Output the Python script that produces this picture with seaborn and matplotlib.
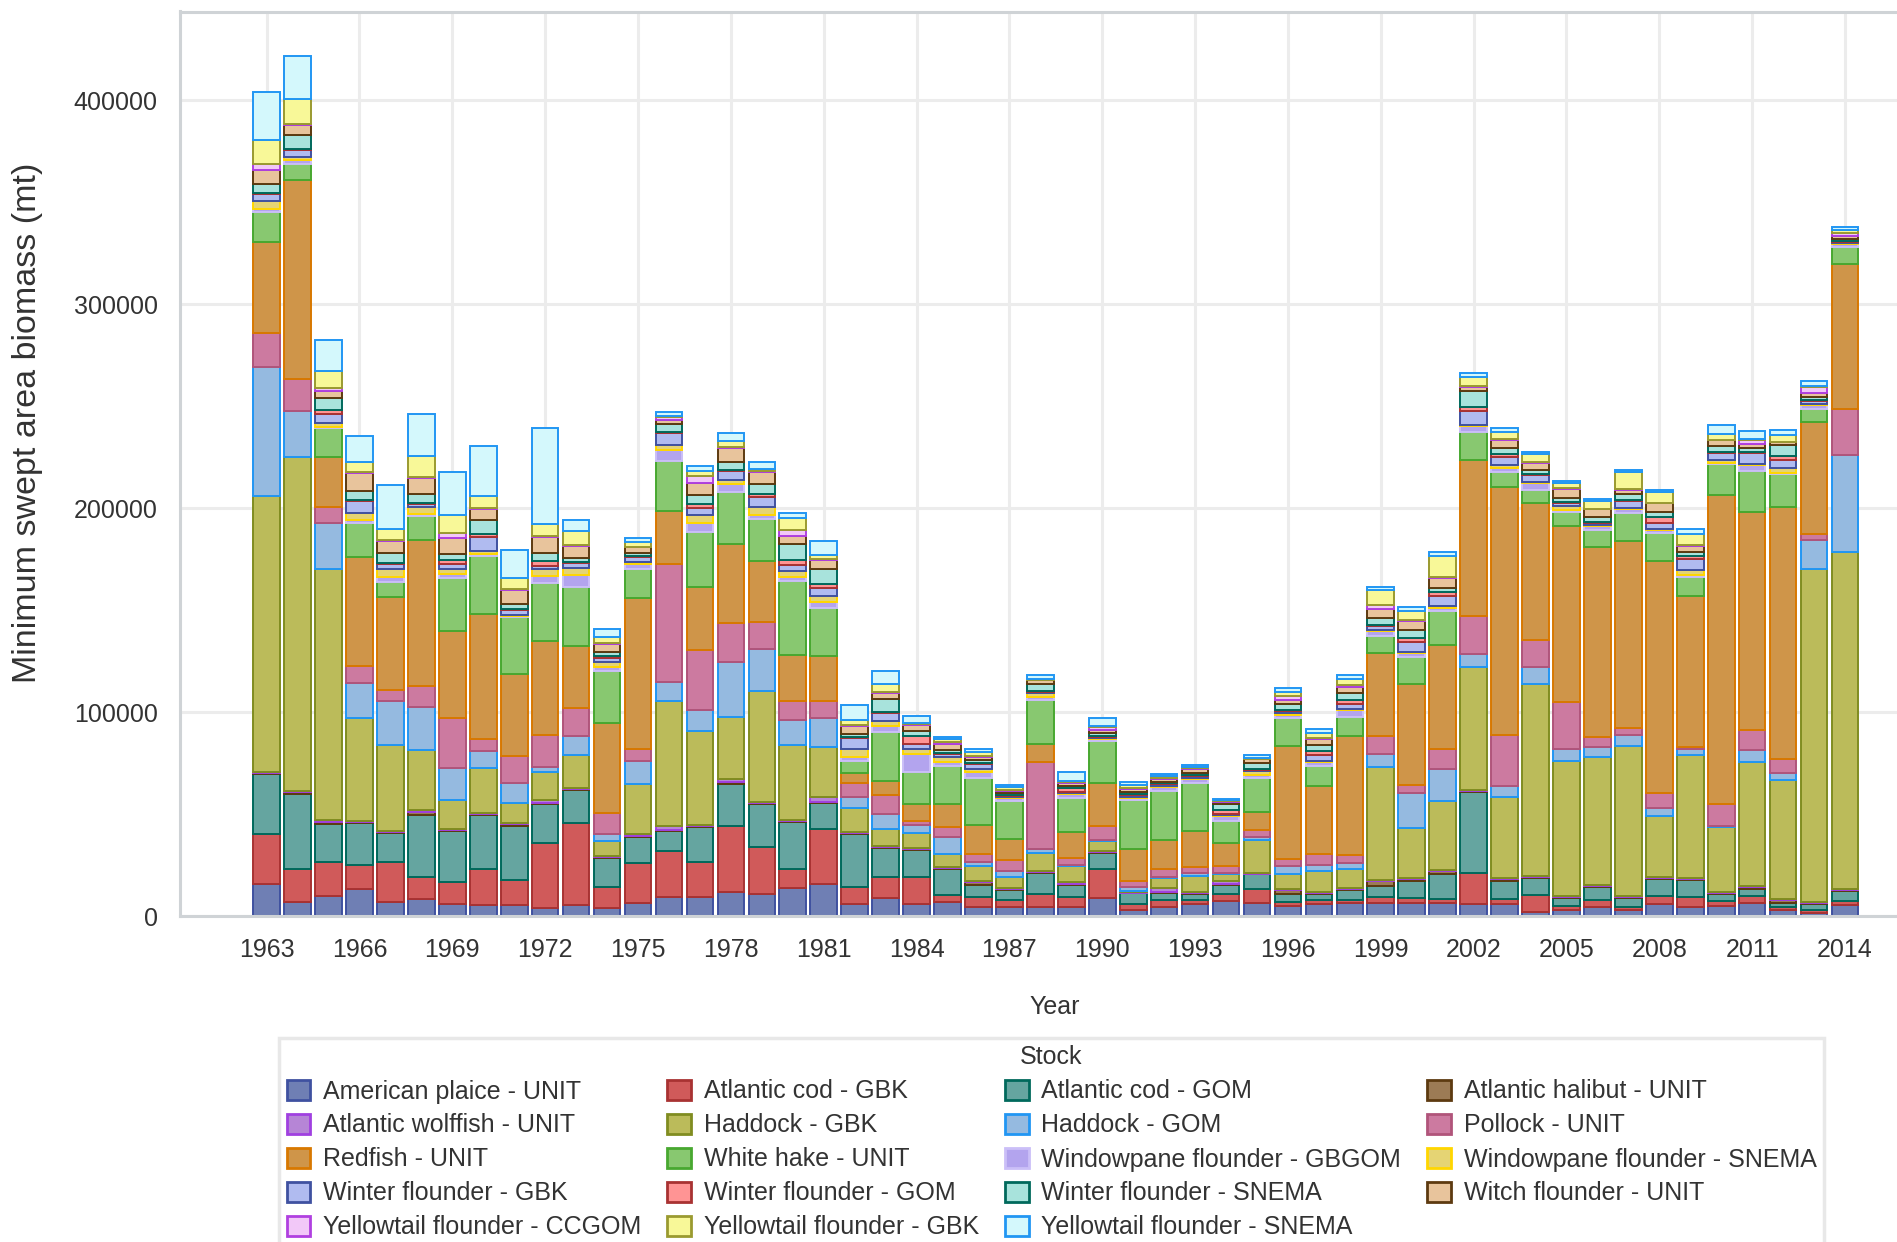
import matplotlib
matplotlib.use("Agg")
import pandas as pd
import matplotlib.pyplot as plt
import seaborn as sns
from matplotlib import font_manager
from matplotlib.colors import to_hex
from matplotlib.patches import Patch
from matplotlib.ticker import FuncFormatter

# --- data (thousand mt, years 1963-2014) ---
YEARS = list(range(1963, 2015))

STOCKS = [
    "American plaice - UNIT", "Atlantic cod - GBK", "Atlantic cod - GOM", "Atlantic halibut - UNIT",
    "Atlantic wolffish - UNIT", "Haddock - GBK", "Haddock - GOM", "Pollock - UNIT",
    "Redfish - UNIT", "White hake - UNIT", "Windowpane flounder - GBGOM", "Windowpane flounder - SNEMA",
    "Winter flounder - GBK", "Winter flounder - GOM", "Winter flounder - SNEMA", "Witch flounder - UNIT",
    "Yellowtail flounder - CCGOM", "Yellowtail flounder - GBK", "Yellowtail flounder - SNEMA",
]

american_plaice = [15.8, 7, 9.8, 13.4, 7.1, 8.5, 5.7, 5.2, 5.2, 3.9, 5.2, 3.9, 6.5, 9.1, 9.1, 11.8, 10.7, 13.8,
                   15.8, 5.7, 8.7, 5.7, 6.7, 4.4, 4.4, 4.4, 4.4, 8.6, 2.7, 4.4, 6, 7.3, 6.6, 5, 6, 6.2, 6.6,
                   6.6, 6.3, 5.9, 5.9, 2.1, 2.8, 4.2, 3, 5.9, 4.3, 4.7, 6.5, 3, 1.5, 5.4]
cod_gbk = [24.3, 16, 16.5, 11.6, 19.2, 10.4, 11, 17.7, 12.5, 31.9, 40.3, 10.4, 19.5, 22.6, 17.4, 32.5, 23, 9.2,
           26.9, 8.5, 10.2, 13.2, 3.4, 5.1, 3.4, 6.4, 5.1, 14.4, 3.0, 3.4, 2, 3.7, 6.6, 2, 2, 1.8, 2.8, 2.1,
           2.1, 15.1, 2.5, 8, 2, 3.8, 1.5, 3.7, 4.9, 2.9, 3.4, 1.5, 1.2, 2.2]
cod_gom = [29.4, 37, 18.8, 20.6, 14.6, 30.8, 24.8, 26.4, 26.5, 19.3, 16.3, 14.3, 12.5, 9.9, 17.1, 20.3, 21.2,
           23.3, 12.8, 26, 14.2, 13.6, 12.8, 5.9, 5, 10.1, 5.8, 8.1, 5.4, 3.4, 2.6, 4.3, 7.2, 3.7, 3, 4.8, 5.4,
           8.7, 12.1, 39.8, 9, 8.3, 4.2, 6.3, 4.5, 8.4, 8.6, 3.4, 3.4, 1.7, 3, 4.5]
halibut = [0.5, 1, 1, 0.5, 0.5, 1.2, 0.5, 0.5, 1, 0.5, 0.5, 0.5, 0.5, 0.8, 0.5, 1.2, 0.5, 0.5, 0.5, 0.5, 0.5,
           0.5, 0.5, 1.5, 0.5, 0.5, 0.5, 0.5, 0.3, 0.5, 0.5, 0.3, 0.3, 2.2, 0.5, 0.5, 2.2, 0.5, 1.7, 0.5, 0.5,
           0.5, 0.5, 0.5, 0.5, 0.5, 0.5, 0.3, 1.1, 1.5, 0.5, 0.5]
wolffish = [0.5, 0.5, 0.9, 0.5, 0.5, 1.0, 0.5, 0.5, 0.5, 1.5, 0.5, 0.5, 1.3, 1.8, 0.5, 1.3, 0.5, 0.5, 2.5, 0.5,
            0.5, 0.5, 0.5, 0.5, 0.3, 0.5, 0.9, 0.5, 0.3, 2.0, 0.5, 1.8, 0.3, 0.5, 0.5, 0.5, 0.5, 0.5, 0.5, 0.5,
            0.5, 0.5, 0.5, 0.5, 0.5, 0.5, 0.5, 0.3, 0.3, 0.5, 0.5, 0.5]
haddock_gbk = [135.5, 163.4, 123.3, 50.7, 41.9, 29.5, 14.6, 22.4, 9.9, 13.5, 16.1, 7.3, 24.6, 61, 46.3, 30.4,
               54.5, 36.6, 24.4, 11.6, 8.6, 7.2, 6.6, 7.3, 5.4, 9.2, 7.6, 4.8, 0.5, 5, 7.8, 3.3, 16.1, 7.2, 10,
               9.3, 55.4, 24.9, 33.9, 60.4, 39.9, 94.4, 66.1, 62.9, 73.4, 29.8, 60.3, 32.1, 60.8, 58.7, 163.2,
               165.6]
haddock_gom = [63.3, 22.5, 22.5, 17.1, 21.5, 21.2, 15.7, 8.3, 9.8, 2.6, 9.4, 3.1, 10.9, 9.6, 9.9, 27.1, 20.3,
               12.2, 14.2, 5.7, 7.3, 4.1, 8.2, 1.7, 2.9, 1.7, 0.5, 0.5, 2.1, 0.3, 1.5, 0.5, 1.5, 3.7, 2.8, 2.9,
               6.6, 16.9, 15.3, 6.3, 5.2, 8.4, 5.6, 4.8, 5.2, 4.2, 2.7, 0.5, 5.7, 3.1, 14.7, 47.3]
pollock = [16.5, 16, 7.7, 8.2, 5.5, 10.4, 24.2, 6, 13, 15.6, 13.5, 10.4, 6, 57.9, 29.5, 19.3, 13.6, 9.2, 8.2,
           6.5, 9.5, 2, 5.1, 4, 5.6, 42.5, 3.7, 6.8, 2.7, 3.9, 2.9, 3.3, 3.5, 3.5, 5.5, 3.7, 8.7, 3.8, 9.8,
           18.8, 25.1, 13.2, 23.1, 5, 3.6, 7.4, 1, 10.6, 10.1, 6.8, 2.9, 22.5]
redfish = [44.6, 97.7, 24.8, 53.2, 45.4, 71.5, 42.7, 61, 40.5, 46.2, 30.6, 44.1, 74, 25.9, 31.2, 38.6, 29.7,
           22.7, 22.3, 5.3, 6.7, 8.2, 11.2, 14.1, 10.1, 8.8, 12.5, 21, 15.8, 14.2, 18, 11.4, 8.7, 55.7, 33.3,
           58.5, 41, 49.9, 51, 76.5, 121.6, 67, 86.5, 92.9, 91.8, 113.5, 74.3, 151.5, 107, 123.9, 54.5, 71]
white_hake = [15, 7.4, 13.8, 17, 7.4, 11.6, 26.1, 28.5, 27.6, 28.1, 29.1, 25.4, 14.3, 24.7, 26.7, 25.4, 20.7,
              36.2, 23.4, 5.5, 23.8, 15.8, 18.6, 23.1, 18.6, 21.6, 17, 20.5, 24.2, 24.2, 23.5, 10.9, 17, 13.8,
              10, 9.4, 8.3, 12.9, 16.7, 13.6, 7.3, 6.7, 7, 8.3, 13.6, 13.8, 9, 15.1, 19.8, 15.8, 6.4, 8.5]
windowpane_gbgom = [1.5, 2, 0.8, 1.5, 2.8, 0.8, 2, 1, 0.5, 3.6, 5.7, 2.1, 2.6, 5.2, 4.4, 4.1, 2.1, 2.1, 3.1,
                    2.2, 3.1, 8.5, 2.1, 3, 1.5, 1.7, 1.7, 1, 1.0, 2, 2, 2, 1.2, 1.5, 2, 3.3, 2.1, 2, 1.5, 2.8,
                    2.3, 3.2, 1, 2, 2.1, 1.5, 1, 0.5, 3.1, 0.5, 2.2, 1.6]
windowpane_snema = [3.5, 1.6, 1.9, 3.2, 3.5, 3.6, 2.1, 1.6, 0.5, 3.4, 3.4, 2.6, 1, 2.6, 3.9, 2, 3.6, 3, 3, 3.7,
                    2.4, 2.5, 2.1, 1.7, 0.5, 2, 0.5, 0.5, 0.5, 0.5, 0.5, 0.5, 2, 0.5, 0.5, 0.5, 0.5, 0.5, 1.2,
                    0.5, 1.5, 0.5, 1.5, 0.5, 0.5, 0.5, 2.6, 1.8, 0.5, 2.9, 0.5, 0.5]
winter_gbk = [3.8, 3.6, 4.1, 5.8, 2.8, 1.5, 2.5, 6.9, 2.5, 1.5, 2.4, 2, 2.4, 5.7, 3.4, 4.1, 4.9, 2.7, 3.5, 5.4,
              4.1, 2.6, 1.5, 2.1, 0.5, 0.5, 0.5, 0.5, 0.8, 0.8, 0.8, 0.8, 0.8, 1, 2.6, 2.6, 2.2, 5, 4.7, 7,
              3.6, 3.2, 1.5, 1, 3.2, 3.2, 5.4, 3.4, 5.2, 3.8, 1.5, 0.5]
winter_gom = [0.5, 0.5, 2.2, 0.5, 0.5, 0.5, 2, 1.5, 0.5, 2.6, 0.5, 1, 0.5, 0.5, 2.1, 0.5, 1.6, 2.8, 2, 0.5,
              0.5, 4.1, 0.5, 0.5, 0.5, 0.5, 2, 0.5, 0.5, 0.5, 0.5, 2, 0.5, 0.5, 2, 2, 0.5, 2, 2.1, 2, 1.4,
              0.5, 0.5, 0.5, 0.5, 2.5, 1.3, 0.5, 0.5, 1.8, 0.5, 0.5]
winter_snema = [4.4, 6.6, 6.1, 4.7, 5.0, 4.5, 3, 6.7, 2.7, 3.6, 2, 2, 1.5, 4.1, 4.4, 4.1, 5.1, 7.7, 7.7, 1.5,
                6.2, 2, 1.5, 1.6, 1, 3.4, 1, 1.5, 1.2, 0.8, 1, 3, 2.5, 3, 3.3, 3.5, 3.3, 3.8, 2, 7.5, 3.4, 2,
                2, 2.5, 3.1, 2.7, 2.3, 2.9, 2.3, 5.6, 1.5, 0.8]
witch = [6.7, 4.9, 3.3, 8.6, 5.5, 7.8, 7.7, 5.2, 6.8, 7.8, 5.9, 3.9, 2.6, 2, 6, 6.7, 5.5, 3.7, 4.1, 4.1, 3,
         3.1, 3, 1.4, 1.2, 1.7, 1.5, 1.5, 1.5, 1.2, 2, 1, 2, 2, 3, 2.6, 4.4, 4.4, 4.6, 2, 3.6, 3.8, 4.8, 3.8,
         2, 4.2, 2.7, 2.7, 1.6, 1.1, 2, 1.5]
yellowtail_ccgom = [2.7, 0.5, 1.6, 0.5, 0.5, 0.5, 2.7, 0.5, 0.3, 0.5, 0.5, 0.5, 0.3, 1.2, 3.1, 0.5, 0.5, 2.9,
                    0.5, 0.3, 0.3, 0.3, 1, 0.5, 0.5, 0.3, 0.3, 1.5, 0.3, 0.5, 0.3, 0.5, 0.3, 2, 0.5, 1, 2.2,
                    0.5, 0.5, 0.5, 0.5, 0.5, 0.3, 0.3, 0.5, 0.3, 0.5, 0.3, 2.3, 0.3, 2.8, 1.5]
yellowtail_gbk = [12.1, 12.4, 8.3, 4.9, 5.5, 10.4, 8.8, 6.2, 5.2, 6, 7.1, 2.6, 2.6, 0.5, 2.6, 2.8, 1, 6, 2,
                  2.6, 4.1, 0.5, 1.5, 2, 1.2, 0.5, 0.5, 0.5, 1.5, 1, 0.5, 0.5, 0.5, 2, 2, 3, 7.3, 4.4, 10.4,
                  4.7, 3.5, 3.6, 2.6, 3.6, 8, 5.3, 5.6, 2.7, 0.5, 3.4, 0.5, 1.3]
yellowtail_snema = [23.4, 21.2, 15.1, 13, 21.5, 20.6, 20.9, 24.2, 14.1, 47.3, 5.1, 3.9, 1.5, 2, 2.6, 4.1, 3.6,
                    2.7, 7.1, 7.5, 6.5, 3.6, 1, 1.7, 1.2, 1.7, 4.5, 3.8, 1.2, 1, 1, 0.3, 1.5, 2, 2, 2, 1.5,
                    2.2, 2.1, 2, 2, 1, 1, 1, 1, 1, 2.3, 4.7, 3.6, 2.3, 2.3, 1.6]

SERIES = [american_plaice, cod_gbk, cod_gom, halibut, wolffish, haddock_gbk, haddock_gom, pollock,
          redfish, white_hake, windowpane_gbgom, windowpane_snema, winter_gbk, winter_gom, winter_snema,
          witch, yellowtail_ccgom, yellowtail_gbk, yellowtail_snema]

# --- colours (fill / outline) ---
FILL = ["#6f7fb4", "#d05a5a", "#65a5a0", "#9c7b55", "#b685d6", "#bbbb5a", "#95bae0", "#cc7aa0",
        "#cf9549", "#88c870", "#b3a4ee", "#e5d474", "#b0bbf0", "#ff9494", "#a8e3dc", "#e8c49c",
        "#f2c8f8", "#f8f898", "#d4f8fc"]
EDGE = ["#3f51a0", "#a83232", "#00695c", "#5d3a10", "#a040e0", "#808c20", "#2196f3", "#b0547a",
        "#d87800", "#48a830", "#cbbff8", "#ffd600", "#3f51a0", "#a83232", "#00695c", "#5d3a10",
        "#b040e0", "#9a9a30", "#2196f3"]

rows = []
for stock, vals in zip(STOCKS, SERIES):
    assert len(vals) == len(YEARS), stock
    for yr, v in zip(YEARS, vals):
        rows.append((yr, stock, v * 1000))
df = pd.DataFrame(rows, columns=["Year", "Stock", "Biomass"])

# --- fonts ---
sns.set_style("white")
installed = {f.name for f in font_manager.fontManager.ttflist}
if "Liberation Sans Narrow" in installed:
    MAIN_FONT, PT = "Liberation Sans Narrow", 22
else:
    MAIN_FONT, PT = "Liberation Sans", 18
plt.rcParams["font.family"] = [MAIN_FONT, "DejaVu Sans"]
TXT = "#333333"

# --- plot ---
W, H = 1897, 1242
fig = plt.figure(figsize=(W / 100, H / 100), dpi=100)
ax = fig.add_axes([180 / W, 1 - 916 / H, 1 - 180 / W, (916 - 11.5) / H])

sns.histplot(data=df, x="Year", weights="Biomass", hue="Stock", hue_order=STOCKS[::-1],
             multiple="stack", discrete=True, shrink=0.86, alpha=1,
             palette=dict(zip(STOCKS, FILL)), legend=False, ax=ax)

fill2edge = {to_hex(f): e for f, e in zip(FILL, EDGE)}
for p in ax.patches:
    key = to_hex(p.get_facecolor())
    if key in fill2edge:
        p.set_edgecolor(fill2edge[key])
        p.set_linewidth(1.4)

ax.set_xlim(1960.2, 2015.68)
ax.set_ylim(0, 443500)
ax.set_xticks(YEARS[::3])
ax.set_yticks([0, 100000, 200000, 300000, 400000])
ax.yaxis.set_major_formatter(FuncFormatter(lambda v, _: f"{int(v)}"))
ax.set_axisbelow(True)
ax.grid(True, color="#ececec", linewidth=2.2)
for s in ["left", "bottom", "top"]:
    ax.spines[s].set_color("#cfd3d6")
    ax.spines[s].set_linewidth(2.2)
ax.spines["right"].set_visible(False)
ax.tick_params(axis="x", length=11, width=2.5, color="#b4b7ba", pad=4.5, labelsize=PT, labelcolor=TXT)
ax.tick_params(axis="y", length=8, width=2, color="#d0d3d6", pad=8, labelsize=PT, labelcolor=TXT)
ax.set_xlabel("")
ax.set_ylabel("")

fig.text(28 / W, 1 - 423 / H, "Minimum swept area biomass (mt)", rotation=90, ha="center", va="center",
         family=["Liberation Sans", "DejaVu Sans"], fontsize=24.5, color=TXT)
fig.text(1055 / W, 1 - 1007 / H, "Year", ha="center", va="center", fontsize=PT, color=TXT)

# --- legend (row-major like the original) ---
handles = [Patch(facecolor=f, edgecolor=e, linewidth=2) for f, e in zip(FILL, EDGE)]
order = [0, 4, 8, 12, 16, 1, 5, 9, 13, 17, 2, 6, 10, 14, 18, 3, 7, 11, 15]
leg = fig.legend([handles[i] for i in order], [STOCKS[i] for i in order], ncol=4, title="Stock",
                 loc="upper left", bbox_to_anchor=(279 / W, 1 - 1038 / H), frameon=True, fancybox=False,
                 edgecolor="#e3e3e3", fontsize=PT, title_fontsize=PT, handlelength=0.95,
                 handleheight=0.88, handletextpad=0.5, columnspacing=1.05, labelspacing=0.4,
                 borderpad=0.3, borderaxespad=0)
leg.get_frame().set_linewidth(2.5)
leg.get_title().set_color(TXT)
for t in leg.get_texts():
    t.set_color(TXT)

fig.savefig("out.png", dpi=100)
